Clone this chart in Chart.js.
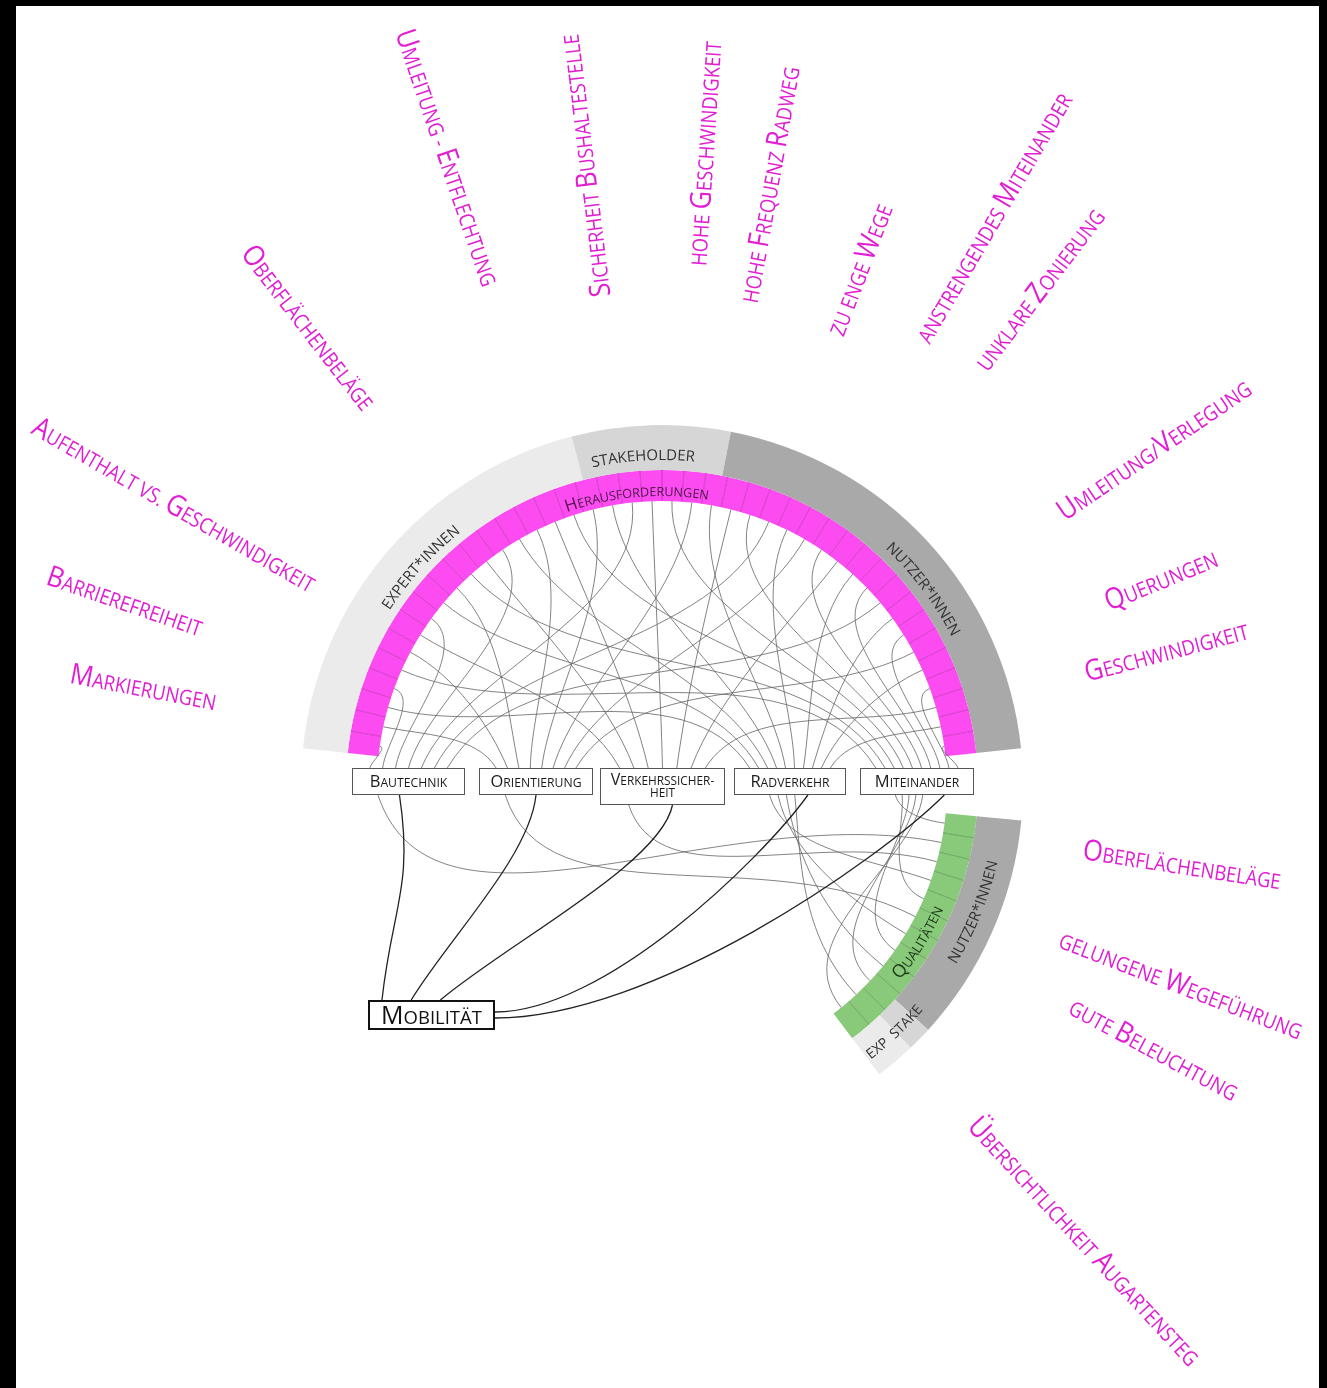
<!DOCTYPE html>
<html lang="de">
<head>
<meta charset="UTF-8">
<title>Herausforderungen &amp; Qualitäten</title>
<style>
  html,body{margin:0;padding:0;background:#000;}
  body{width:1327px;height:1388px;position:relative;overflow:hidden;}
  #paper{position:absolute;left:16px;top:6px;right:8px;bottom:0;background:#fff;}
  #chord{position:absolute;left:0;top:0;}
</style>
<script src="https://cdn.jsdelivr.net/npm/chart.js@4"></script>
</head>
<body>
<div id="paper"></div>
<canvas id="chord" width="1327" height="1388"></canvas>
<script>
/* ===== Data ===== */
// outer ring: who named it (arc in degrees)
const stakeTop    = ['Expert*innen', 'Stakeholder', 'Nutzer*innen'];
const stakeTopDeg = [69.5, 25.5, 73];
const stakeLow    = ['Nutzer*innen', 'Stake', 'Exp'];
const stakeLowDeg = [37, 4, 6.5];

const themes = ['Bautechnik', 'Orientierung', 'Verkehrssicher-|heit', 'Radverkehr', 'Miteinander'];
const hub = 'Mobilität';

// one entry per mention (pink cell, left -> right): index into themes
const challengeLinks = [0,1,3,0,4,1,2,0,3,1,4,2,0,3,1,2,4,1,3,0,2,4,1,3,2,4,0,3,1,4,2,3,4,0,3,4,1,3,4,2,3,4];
// one entry per mention (green cell, top -> bottom)
const qualityLinks = [4,0,2,3,4,1,3,4,3,4,3,4];

const challengeLabels = ['Markierungen','Barrierefreiheit','Aufenthalt vs. Geschwindigkeit','Oberflächenbeläge',
  'Umleitung - Entflechtung','Sicherheit Bushaltestelle','hohe Geschwindigkeit','hohe Frequenz Radweg',
  'zu enge Wege','anstrengendes Miteinander','unklare Zonierung','Umleitung/Verlegung','Querungen','Geschwindigkeit'];
const qualityLabels = ['Oberflächenbeläge','gelungene Wegeführung','gute Beleuchtung','Übersichtlichkeit Augartensteg'];

/* ===== Layout (angle clockwise from top, radius from centre) ===== */
const challengeLabelPos = [[-79.3,528],[-71.1,568],[-60.1,563],[-37.7,579],[-18.9,664],[-7,625],[3.9,634],
  [10.2,611],[21,553],[30.3,658],[37.3,624],[55.7,596],[67.6,540],[75.1,522]];
const qualityLabelPos = [[98.7,526],[111,556],[118.2,558],[137.2,621]];
const themeBox = [[-310,113,27],[-183,114,27],[-62,125,37],[72,112,27],[198,114,27]]; // dx, w, h
const hubBox = [-294,214,127,30];

const FONT = "'Open Sans','Noto Sans',sans-serif";
const MAGENTA = '#e21dd4', PINK = '#fc4bf0', GREEN = '#88c97a';
const CELL = 4, GAP1 = 11.5;
const greenDeg = stakeLowDeg.reduce((a,b)=>a+b,0);

/* ===== Ring data ===== */
const topDeg = challengeLinks.length*CELL;
const outerData = [...stakeTopDeg, GAP1, ...stakeLowDeg, 360-topDeg-GAP1-greenDeg];
const outerCol  = ['#ebebeb','#d6d6d6','#a9a9a9','rgba(0,0,0,0)','#a9a9a9','#d6d6d6','#ebebeb','rgba(0,0,0,0)'];
const innerData = [...challengeLinks.map(()=>CELL), GAP1, ...qualityLinks.map(()=>greenDeg/qualityLinks.length), 360-topDeg-GAP1-greenDeg];
const innerCol  = [...challengeLinks.map(()=>PINK), 'rgba(0,0,0,0)', ...qualityLinks.map(()=>GREEN), 'rgba(0,0,0,0)'];

/* ===== Helpers ===== */
function scRuns(text, size, ratio){
  const runs=[];
  for(const ch of text){
    const big = ch!==ch.toLowerCase();
    const fs = big ? size : size*ratio;
    const last = runs[runs.length-1];
    if(last && last.fs===fs) last.s+=ch.toUpperCase(); else runs.push({s:ch.toUpperCase(), fs});
  }
  return runs;
}
function measure(ctx, runs){
  let w=0; runs.forEach(r=>{ctx.font=`${r.fs}px ${FONT}`; r.w=ctx.measureText(r.s).width; w+=r.w;}); return w;
}
function smallCaps(ctx, text, x, y, size, align, ratio=0.74){
  const runs=scRuns(text,size,ratio), w=measure(ctx,runs);
  let px = align==='center'? x-w/2 : align==='right'? x-w : x;
  ctx.textAlign='left'; ctx.textBaseline='alphabetic';
  runs.forEach(r=>{ctx.font=`${r.fs}px ${FONT}`; ctx.fillText(r.s,px,y); px+=r.w;});
}
// text along the circle; dir 1 = clockwise (tops outward), -1 = counter-clockwise (tops inward)
function arcText(ctx, text, cx, cy, r, deg, dir, size, color, sc){
  const chars=[];
  for(const ch of text){
    const big = !sc || ch!==ch.toLowerCase();
    chars.push({c:ch.toUpperCase(), fs: big?size:size*0.74});
  }
  let total=0; chars.forEach(o=>{ctx.font=`${o.fs}px ${FONT}`; o.w=ctx.measureText(o.c).width; total+=o.w;});
  let a = deg*Math.PI/180 - dir*total/(2*r);
  ctx.fillStyle=color; ctx.textAlign='center'; ctx.textBaseline='alphabetic';
  chars.forEach(o=>{
    const am = a + dir*o.w/(2*r);
    ctx.save();
    ctx.translate(cx + r*Math.sin(am), cy - r*Math.cos(am));
    ctx.rotate(dir===1 ? am : am-Math.PI);
    ctx.font=`${o.fs}px ${FONT}`; ctx.fillText(o.c,0,0);
    ctx.restore();
    a += dir*o.w/r;
  });
}
function radialLabel(ctx, text, cx, cy, deg, r, size){
  const t = deg*Math.PI/180;
  const outward = deg > -12;
  ctx.save();
  ctx.translate(cx + r*Math.sin(t), cy - r*Math.cos(t));
  ctx.rotate(outward ? t-Math.PI/2 : t+Math.PI/2);
  ctx.scale(0.88,1);
  ctx.fillStyle=MAGENTA;
  smallCaps(ctx, text, 0, size*0.3, size, 'center', 0.72);
  ctx.restore();
}

/* ===== Plugin: dividers, chords, boxes, labels ===== */
const chordPlugin = {
  id:'chords',
  afterDatasetsDraw(chart){
    const ctx = chart.ctx;
    const arcs = chart.getDatasetMeta(1).data;
    const nC = challengeLinks.length, nQ = qualityLinks.length;
    const cells = arcs.slice(0,nC), qcells = arcs.slice(nC+1, nC+1+nQ);
    const cx = arcs[0].x, cy = arcs[0].y;

    // cell dividers
    ctx.save(); ctx.lineWidth=1;
    const divide = (list,col)=>{
      ctx.strokeStyle=col;
      list.forEach((el,i)=>{ if(!i) return;
        const a=el.startAngle;
        ctx.beginPath();
        ctx.moveTo(cx+el.innerRadius*Math.cos(a), cy+el.innerRadius*Math.sin(a));
        ctx.lineTo(cx+el.outerRadius*Math.cos(a), cy+el.outerRadius*Math.sin(a));
        ctx.stroke();
      });
    };
    divide(cells,'rgba(150,20,140,0.45)');
    divide(qcells,'rgba(60,110,50,0.45)');

    const boxes = themeBox.map(([dx,w,h])=>({x:cx+dx, y:cy-18, w, h}));
    const H = {x:cx+hubBox[0], y:cy+hubBox[1], w:hubBox[2], h:hubBox[3]};
    const cellPt = el=>{const a=(el.startAngle+el.endAngle)/2, r=el.innerRadius;
      return {x:cx+r*Math.cos(a), y:cy+r*Math.sin(a), ux:-Math.cos(a), uy:-Math.sin(a)};};

    // grey chords: challenges -> box tops
    ctx.strokeStyle='rgba(100,100,100,0.8)'; ctx.lineWidth=1;
    const tops = boxes.map(()=>[]);
    challengeLinks.forEach((b,i)=>tops[b].push(cellPt(cells[i])));
    tops.forEach((list,b)=>{
      const B=boxes[b]; list.sort((p,q)=>p.x-q.x);
      list.forEach((p,k)=>{
        const ex=B.x+B.w*(0.1+0.8*(k+0.5)/list.length), ey=B.y;
        const d=Math.hypot(ex-p.x,ey-p.y);
        ctx.beginPath(); ctx.moveTo(p.x,p.y);
        ctx.bezierCurveTo(p.x+p.ux*d*0.33, p.y+p.uy*d*0.33, ex+(p.x-ex)*0.18, ey-d*0.28, ex, ey);
        ctx.stroke();
      });
    });
    // grey chords: qualities -> box bottoms
    const bots = boxes.map(()=>[]);
    qualityLinks.forEach((b,i)=>bots[b].push(cellPt(qcells[i])));
    bots.forEach((list,b)=>{
      const B=boxes[b]; list.sort((p,q)=>p.y-q.y);
      list.forEach((p,k)=>{
        const ex=B.x+B.w*(0.08+0.3*(k+0.5)/list.length)+(b>2?B.w*0.2:0), ey=B.y+B.h;
        const d=Math.hypot(ex-p.x,ey-p.y);
        ctx.beginPath(); ctx.moveTo(p.x,p.y);
        ctx.bezierCurveTo(p.x+p.ux*d*0.4, p.y+p.uy*d*0.4, ex+(p.x-ex)*0.1, ey+d*0.3, ex, ey);
        ctx.stroke();
      });
    });
    // black links: themes -> hub
    ctx.strokeStyle='#222'; ctx.lineWidth=1.3;
    boxes.forEach((B,b)=>{
      const sx=B.x+B.w*(0.42+0.08*b), sy=B.y+B.h;
      ctx.beginPath(); ctx.moveTo(sx,sy);
      if(B.x+B.w/2 < H.x+H.w+200){
        const ex=H.x+H.w*(0.11+0.23*b), ey=H.y, dy=ey-sy;
        if(b===0) ctx.bezierCurveTo(sx+14, sy+dy*0.45, ex+10, ey-dy*0.45, ex, ey);
        else ctx.bezierCurveTo(sx-(sx-ex)*0.05, sy+dy*0.3, ex+(sx-ex)*0.3, ey-dy*0.3, ex, ey);
      } else {
        const ex=H.x+H.w, ey=H.y+12+6*(b-3);
        ctx.bezierCurveTo(sx-(sx-ex)*0.15, sy+(ey-sy)*0.3, ex+(sx-ex)*0.35, ey, ex, ey);
      }
      ctx.stroke();
    });

    // theme boxes
    boxes.forEach((B,b)=>{
      ctx.fillStyle='#fff'; ctx.fillRect(B.x,B.y,B.w,B.h);
      ctx.strokeStyle='#555'; ctx.lineWidth=1; ctx.strokeRect(B.x+0.5,B.y+0.5,B.w-1,B.h-1);
      ctx.fillStyle='#1a1a1a';
      const parts=themes[b].split('|');
      if(parts.length===1) smallCaps(ctx, parts[0], B.x+B.w/2, B.y+19, 16.5, 'center');
      else { smallCaps(ctx, parts[0], B.x+B.w/2, B.y+17, 16, 'center'); smallCaps(ctx, parts[1], B.x+B.w/2, B.y+29, 16, 'center'); }
    });
    // hub box
    ctx.fillStyle='#fff'; ctx.fillRect(H.x,H.y,H.w,H.h);
    ctx.strokeStyle='#111'; ctx.lineWidth=2; ctx.strokeRect(H.x+1,H.y+1,H.w-2,H.h-2);
    ctx.fillStyle='#111'; smallCaps(ctx, hub, H.x+H.w/2, H.y+24, 25, 'center');

    // ring captions
    arcText(ctx,'STAKEHOLDER',cx,cy,326,-3.3,1,15,'#333',false);
    arcText(ctx,'Herausforderungen',cx,cy,290,-5,1,17,'#4a1646',true);
    arcText(ctx,'EXPERT*INNEN',cx,cy,324,-47.8,1,15,'#333',false);
    arcText(ctx,'NUTZER*INNEN',cx,cy,326,53,1,15,'#333',false);
    arcText(ctx,'NUTZER*INNEN',cx,cy,344,112,-1,15,'#333',false);
    arcText(ctx,'Qualitäten',cx,cy,307,121.4,-1,18,'#1d3a18',true);
    arcText(ctx,'EXP',cx,cy,344,140.6,-1,14,'#333',false);
    arcText(ctx,'STAKE',cx,cy,344,134,-1,14,'#333',false);

    // magenta labels
    challengeLabels.forEach((t,i)=>radialLabel(ctx,t,cx,cy,challengeLabelPos[i][0],challengeLabelPos[i][1],29));
    qualityLabels.forEach((t,i)=>radialLabel(ctx,t,cx,cy,qualityLabelPos[i][0],qualityLabelPos[i][1],29));
    ctx.restore();
  }
};

/* ===== Chart ===== */
new Chart(document.getElementById('chord'),{
  type:'doughnut',
  data:{
    labels:[...stakeTop,'',...stakeLow,''],
    datasets:[
      {data:outerData, backgroundColor:outerCol, borderWidth:0, weight:45},
      {data:innerData, backgroundColor:innerCol, borderWidth:0, weight:31}
    ]
  },
  options:{
    responsive:false, animation:false, events:[],
    rotation:-84, circumference:360, cutout:285,
    offset:0, hoverOffset:0, spacing:0,
    layout:{padding:{left:301,right:304,top:425,bottom:241}},
    plugins:{legend:{display:false}, tooltip:{enabled:false}}
  },
  plugins:[chordPlugin]
});
</script>
</body>
</html>
